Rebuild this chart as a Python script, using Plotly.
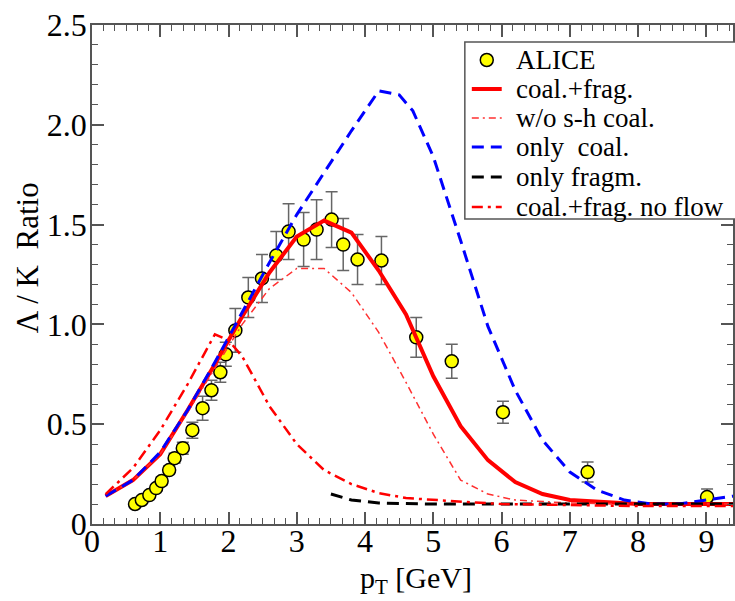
import plotly.graph_objects as go

# ALICE data
alice_pt = [0.63, 0.73, 0.84, 0.94, 1.02, 1.13, 1.21, 1.33, 1.47, 1.62, 1.75, 1.88, 1.96,
            2.10, 2.29, 2.49, 2.70, 2.88, 3.10, 3.29, 3.51, 3.68, 3.89, 4.24, 4.75, 5.27,
            6.02, 7.26, 9.01]
alice_ratio = [0.10, 0.12, 0.145, 0.18, 0.215, 0.27, 0.33, 0.38, 0.47, 0.58, 0.67, 0.76, 0.85,
               0.97, 1.135, 1.23, 1.345, 1.465, 1.425, 1.475, 1.525, 1.40, 1.325, 1.32, 0.935,
               0.815, 0.56, 0.26, 0.135]
alice_err = [0.01, 0.01, 0.01, 0.015, 0.02, 0.02, 0.025, 0.03, 0.04, 0.06, 0.05, 0.05, 0.06,
             0.11, 0.10, 0.12, 0.12, 0.14, 0.135, 0.15, 0.14, 0.13, 0.125, 0.12, 0.10, 0.085,
             0.055, 0.05, 0.04]

# coal.+frag.
coal_frag_pt = [0.2, 0.6, 1.0, 1.4, 1.8, 2.2, 2.6, 3.0, 3.4, 3.8, 4.2, 4.6, 5.0, 5.4, 5.8,
                6.2, 6.6, 7.0, 7.5, 8.0, 9.0, 9.4]
coal_frag = [0.14, 0.22, 0.35, 0.57, 0.80, 1.04, 1.26, 1.44, 1.52, 1.46, 1.27, 1.05, 0.74,
             0.49, 0.32, 0.21, 0.15, 0.12, 0.11, 0.10, 0.10, 0.10]

# w/o s-h coal.
wo_sh_pt = [0.2, 0.6, 1.0, 1.4, 1.8, 2.2, 2.6, 3.0, 3.4, 3.8, 4.2, 4.6, 5.0, 5.4, 5.8, 6.2,
            7.0, 8.0, 9.4]
wo_sh = [0.14, 0.22, 0.35, 0.56, 0.78, 1.00, 1.18, 1.28, 1.28, 1.16, 0.96, 0.71, 0.45, 0.22,
         0.15, 0.12, 0.105, 0.10, 0.10]

# only coal.
only_coal_pt = [0.2, 0.6, 1.0, 1.4, 1.8, 2.2, 2.6, 3.0, 3.4, 3.8, 4.2, 4.5, 4.7, 5.0, 5.4,
                5.8, 6.2, 6.6, 7.0, 7.4, 7.8, 8.2, 8.6, 9.0, 9.4]
only_coal = [0.14, 0.22, 0.36, 0.57, 0.81, 1.06, 1.31, 1.55, 1.76, 1.97, 2.17, 2.15, 2.07,
             1.84, 1.42, 0.99, 0.67, 0.42, 0.26, 0.17, 0.12, 0.10, 0.10, 0.12, 0.14]

# only fragm.
only_fragm_pt = [3.5, 3.8, 4.2, 5.0, 6.0, 7.0, 8.0, 9.4]
only_fragm = [0.15, 0.12, 0.105, 0.10, 0.10, 0.10, 0.10, 0.10]

# coal.+frag. no flow
no_flow_pt = [0.2, 0.6, 1.0, 1.4, 1.8, 2.0, 2.2, 2.6, 3.0, 3.4, 3.8, 4.2, 4.6, 5.0, 5.5,
              6.0, 7.0, 8.0, 9.4]
no_flow = [0.15, 0.28, 0.47, 0.70, 0.95, 0.92, 0.84, 0.59, 0.40, 0.27, 0.20, 0.155, 0.13,
           0.12, 0.11, 0.10, 0.095, 0.09, 0.09]

x_ticks = [0, 1, 2, 3, 4, 5, 6, 7, 8, 9]
y_ticks = [0, 0.5, 1.0, 1.5, 2.0, 2.5]
y_ticktext = ["0", "0.5", "1.0", "1.5", "2.0", "2.5"]

legend_names = ["ALICE", "coal.+frag.", "w/o s-h coal.", "only  coal.", "only fragm.",
                "coal.+frag. no flow"]

FONT = "Liberation Serif"

# plot area in pixels
L, R, T, B = 92, 735, 25, 524
def px(xp):
    return (xp - L) / (R - L)
def py(yp):
    return (B - yp) / (B - T)

styles = [
    None,
    dict(color="#ff0000", width=4, dash="solid"),
    dict(color="#ff3030", width=1.5, dash="7px,4px,2px,4px"),
    dict(color="#0000ff", width=3, dash="12px,7px"),
    dict(color="#000000", width=3, dash="12px,7px"),
    dict(color="#ff0000", width=2.5, dash="11px,5px,3px,5px"),
]

fig = go.Figure()

fig.add_trace(go.Scatter(
    x=alice_pt, y=alice_ratio, mode="markers", name=legend_names[0],
    marker=dict(size=13, color="#ffff00", line=dict(color="black", width=1.5)),
    error_y=dict(type="data", array=alice_err, color="#666666", thickness=1.5, width=6),
))
for name, xs, ys, st in [
    (legend_names[1], coal_frag_pt, coal_frag, styles[1]),
    (legend_names[2], wo_sh_pt, wo_sh, styles[2]),
    (legend_names[3], only_coal_pt, only_coal, styles[3]),
    (legend_names[4], only_fragm_pt, only_fragm, styles[4]),
    (legend_names[5], no_flow_pt, no_flow, styles[5]),
]:
    fig.add_trace(go.Scatter(x=xs, y=ys, mode="lines", name=name, line=st))

axis_common = dict(
    showline=True, linecolor="#555555", linewidth=1.5, mirror="allticks",
    ticks="inside", ticklen=12, tickwidth=1.5, tickcolor="#555555",
    showgrid=False, zeroline=False,
    tickfont=dict(family=FONT, size=32, color="black"),
)

fig.update_xaxes(
    range=[0, 9.39], tickvals=x_ticks, ticktext=[str(v) for v in x_ticks],
    minor=dict(dtick=1/6, ticks="inside", ticklen=6, tickwidth=1.2, tickcolor="#555555"),
    ticklabelstandoff=-12,
    **axis_common,
)
fig.update_yaxes(
    range=[0, 2.5], tickvals=y_ticks, ticktext=y_ticktext,
    minor=dict(dtick=0.1, ticks="inside", ticklen=6, tickwidth=1.2, tickcolor="#555555"),
    ticklabelstandoff=-3,
    **axis_common,
)

annotations = [
    dict(text="p<sub>T</sub> [GeV]", x=px(417), y=py(601), xref="paper", yref="paper",
         xanchor="center", yanchor="bottom", showarrow=False,
         font=dict(family=FONT, size=30, color="black")),
    dict(text="Λ / K  Ratio", x=px(27), y=py(258), xref="paper", yref="paper",
         xanchor="center", yanchor="middle", textangle=-90, showarrow=False,
         font=dict(family=FONT, size=31, color="black")),
]

# manual legend
shapes = [dict(type="rect", xref="paper", yref="paper", x0=px(466), x1=px(760),
               y0=py(219), y1=py(42), line=dict(color="#555555", width=1.5),
               fillcolor="white", layer="above")]
row_y = [60, 89, 118, 147, 177, 207]
for i, name in enumerate(legend_names):
    yy = row_y[i]
    if i == 0:
        shapes.append(dict(type="circle", xref="paper", yref="paper",
                           x0=px(481.5), x1=px(494.5), y0=py(yy + 6.5), y1=py(yy - 6.5),
                           fillcolor="#ffff00", line=dict(color="black", width=1.5),
                           layer="above"))
    else:
        shapes.append(dict(type="line", xref="paper", yref="paper",
                           x0=px(473), x1=px(503), y0=py(yy), y1=py(yy),
                           line=styles[i], layer="above"))
    annotations.append(dict(text=name, x=px(515), y=py(yy), xref="paper", yref="paper",
                            xanchor="left", yanchor="middle", showarrow=False,
                            font=dict(family=FONT, size=27, color="black")))

fig.update_layout(
    width=735, height=601,
    margin=dict(l=L, r=735 - R, t=T, b=601 - B),
    paper_bgcolor="white", plot_bgcolor="white",
    font=dict(family=FONT, color="black"),
    showlegend=False,
    annotations=annotations, shapes=shapes,
)

fig.write_html("out.html")
